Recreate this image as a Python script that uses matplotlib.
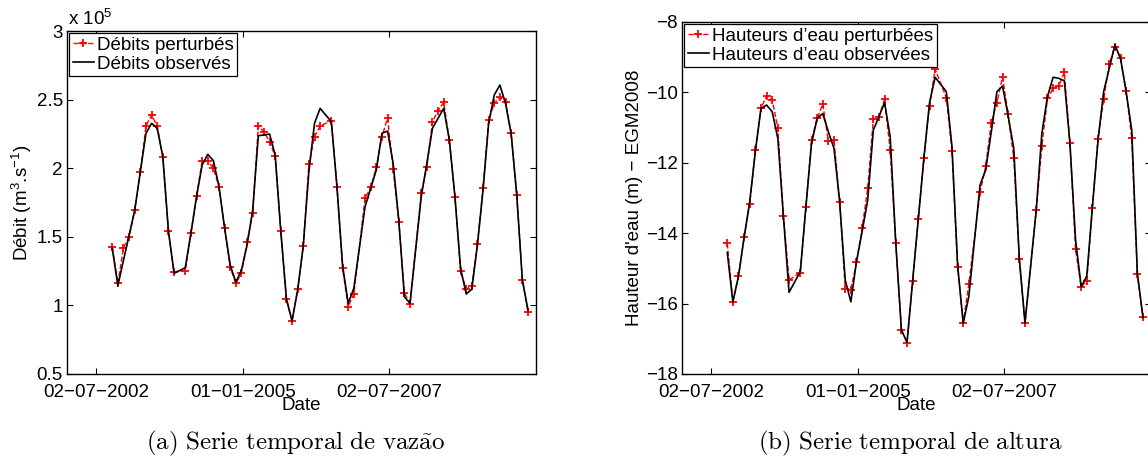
import datetime as dt
import matplotlib
matplotlib.use('Agg')
import matplotlib.pyplot as plt

plt.rcParams['font.family'] = ['Liberation Sans', 'DejaVu Sans']
plt.rcParams['mathtext.fontset'] = 'custom'
plt.rcParams['mathtext.rm'] = 'Liberation Sans'
plt.rcParams['mathtext.it'] = 'Liberation Sans:italic'

# satellite passes every 35 days, index counted from the first pass (some passes missing)
first_pass = dt.date(2002, 10, 10)
pass_idx = [0, 1, 2, 3, 4, 5, 6, 7, 8, 9, 10, 11, 13, 14, 15, 16, 17, 18, 19, 20,
            21, 22, 23, 24, 25, 26, 27, 28, 29, 30, 31, 32, 33, 34, 35, 36, 37, 39, 40, 41,
            42, 43, 45, 46, 47, 48, 49, 50, 51, 52, 53, 55, 56, 57, 58, 59, 60, 61, 62, 63,
            64, 65, 66, 67, 68, 69, 70, 71, 72, 73, 74]

# discharge (x 1e5 m3/s)
q_obs = [1.416, 1.144, 1.33, 1.51, 1.695, 1.975, 2.254, 2.327, 2.291, 2.084, 1.542, 1.234,
         1.275, 1.525, 1.792, 2.023, 2.101, 2.055, 1.865, 1.562,
         1.294, 1.168, 1.258, 1.44, 1.695, 2.237, 2.242, 2.249, 2.096, 1.542, 1.047, 0.886,
         1.112, 1.433, 1.975, 2.327, 2.436, 2.339, 1.865, 1.29,
         1.015, 1.125, 1.720, 1.853, 1.987, 2.254, 2.271, 2.036, 1.622, 1.063, 1.015,
         1.792, 2.036, 2.291, 2.364, 2.436, 2.206, 1.792, 1.270, 1.083,
         1.118, 1.440, 1.841, 2.327, 2.534, 2.606, 2.473, 2.254, 1.805, 1.185, 0.967]
q_pert = [1.428, 1.161, 1.42, 1.50, 1.695, 1.97, 2.308, 2.388, 2.308, 2.080, 1.542, 1.246,
          1.253, 1.525, 1.797, 2.052, 2.052, 1.999, 1.865, 1.562,
          1.277, 1.161, 1.234, 1.46, 1.671, 2.308, 2.266, 2.193, 2.088, 1.542, 1.047, 0.886,
          1.117, 1.433, 2.028, 2.230, 2.308, 2.346, 1.865, 1.270,
          0.991, 1.083, 1.780, 1.86, 2.006, 2.230, 2.364, 1.994, 1.610, 1.093, 1.008,
          1.817, 2.01, 2.339, 2.419, 2.480, 2.206, 1.792, 1.251, 1.120,
          1.141, 1.448, 1.853, 2.351, 2.473, 2.517, 2.485, 2.254, 1.805, 1.185, 0.954]

# water level (m, EGM2008)
h_obs = [-14.55, -15.95, -15.22, -14.12, -13.10, -11.68, -10.45, -10.36, -10.55, -11.31, -13.53, -15.68,
         -15.09, -13.25, -11.45, -10.74, -10.60, -11.12, -11.59, -13.10,
         -15.33, -15.95, -14.81, -13.96, -13.06, -11.07, -10.69, -10.29, -11.26, -14.29, -16.75, -17.10,
         -15.35, -13.61, -11.87, -10.30, -9.57, -9.98, -11.54, -14.90,
         -16.56, -15.80, -12.63, -12.20, -11.12, -9.98, -9.82, -10.67, -11.59, -14.76, -16.55,
         -13.34, -11.16, -10.12, -9.57, -9.60, -9.67, -11.45, -14.19, -15.52,
         -15.22, -13.25, -11.35, -9.98, -9.32, -8.65, -9.03, -9.98, -11.07, -15.14, -16.39]
h_pert = [-14.29, -15.95, -15.22, -14.10, -13.17, -11.65, -10.45, -10.10, -10.21, -11.02, -13.51, -15.33,
          -15.12, -13.25, -11.35, -10.74, -10.33, -11.38, -11.35, -13.10,
          -15.58, -15.61, -14.83, -13.86, -12.73, -10.76, -10.69, -10.20, -11.64, -14.29, -16.75, -17.11,
          -15.35, -13.61, -11.87, -10.38, -9.34, -10.15, -11.66, -14.95,
          -16.56, -15.44, -12.84, -12.10, -10.86, -10.29, -9.57, -10.62, -11.87, -14.73, -16.55,
          -13.34, -11.52, -10.17, -9.88, -9.82, -9.43, -11.43, -14.46, -15.52,
          -15.36, -13.27, -11.33, -10.20, -9.19, -8.70, -9.03, -9.96, -11.30, -15.16, -16.39]

tick_dates = [dt.date(2002, 7, 2), dt.date(2005, 1, 1), dt.date(2007, 7, 2)]
q_ticks = [0.5, 1, 1.5, 2, 2.5, 3]
h_ticks = [-18, -16, -14, -12, -10, -8]

dates = [first_pass + dt.timedelta(days=35 * k) for k in pass_idx]

FS = 13.5


def style_axes(ax):
    ax.set_xlim(dt.date(2002, 1, 1), dt.date(2010, 1, 1))
    ax.set_xticks(tick_dates)
    ax.set_xticklabels([d.strftime('%d-%m-%Y').replace('-', '\u2212') for d in tick_dates])
    ax.tick_params(direction='in', length=4, width=0.8, labelsize=FS,
                   top=True, right=True)
    ax.tick_params(axis='x', pad=7)
    ax.tick_params(axis='y', pad=3)
    for s in ax.spines.values():
        s.set_linewidth(1.0)
    ax.set_xlabel('Date', fontsize=FS, labelpad=-2.5)


def add_legend(ax):
    leg = ax.legend(loc='upper left', fontsize=13.5, handlelength=1.15, handletextpad=0.15,
                    borderpad=0.18, labelspacing=0.1, borderaxespad=0.12,
                    fancybox=False, framealpha=1, edgecolor='k')
    leg.get_frame().set_linewidth(0.9)


fig = plt.figure(figsize=(11.48, 4.63), dpi=100)
W, H = 1148.0, 463.0

ax1 = fig.add_axes([67 / W, 1 - 374 / H, 469 / W, 343 / H])
ax1.plot(dates, q_pert, 'r--+', lw=1.0, ms=5.5, mew=1.3, label='Débits perturbés')
ax1.plot(dates, q_obs, 'k-', lw=1.2, label='Débits observés')
style_axes(ax1)
ax1.set_ylim(0.5, 3)
ax1.set_yticks(q_ticks)
ax1.set_yticklabels(['0.5', '1', '1.5', '2', '2.5', '3'])
ax1.set_ylabel('Débit (m$^3$.s$^{-1}$)', fontsize=FS, labelpad=2)
ax1.text(0.003, 1.006, 'x 10$^5$', transform=ax1.transAxes, fontsize=FS,
         ha='left', va='bottom')
add_legend(ax1)

ax2 = fig.add_axes([682 / W, 1 - 374 / H, 469 / W, 352 / H])
ax2.plot(dates, h_pert, 'r--+', lw=1.0, ms=5.5, mew=1.3, label='Hauteurs d\u2019eau perturbées')
ax2.plot(dates, h_obs, 'k-', lw=1.2, label='Hauteurs d\u2019eau observées')
style_axes(ax2)
ax2.set_ylim(-18, -8)
ax2.set_yticks(h_ticks)
ax2.set_ylabel("Hauteur d'eau (m) \u2212 EGM2008", fontsize=FS, labelpad=2)
add_legend(ax2)

fig.text(296 / W, 1 - 443 / H, r'$\mathrm{(a)\ Serie\ temporal\ de\ vaz\tilde{a}o}$',
         fontsize=18, ha='center', va='center', math_fontfamily='cm')
fig.text(910 / W, 1 - 443 / H, r'$\mathrm{(b)\ Serie\ temporal\ de\ altura}$',
         fontsize=18, ha='center', va='center', math_fontfamily='cm')

fig.savefig('out.png', dpi=100)
